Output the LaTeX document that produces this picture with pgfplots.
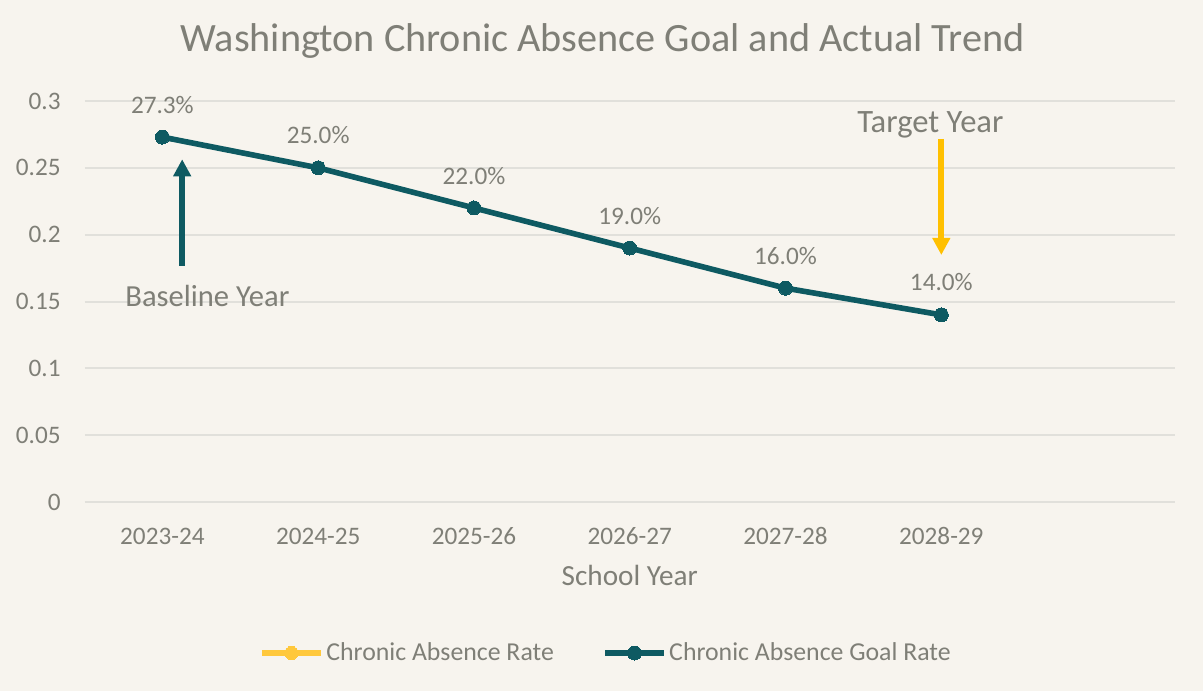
\documentclass[border=0pt]{standalone}
\usepackage{pgfplots}
\pgfplotsset{compat=1.18}
\usepackage{fontspec}
\setmainfont{Carlito}
\usetikzlibrary{arrows.meta}

\definecolor{bg}{HTML}{F7F4EE}
\definecolor{txt}{HTML}{7F7F77}
\definecolor{gridc}{HTML}{E1E0DB}
\definecolor{goalc}{HTML}{0E5A62}
\definecolor{arrowy}{HTML}{FFC000}
\definecolor{legy}{HTML}{FFC83C}

% goal rate per school year (index 0 = 2023-24)
\pgfplotstableread{
x y
0 0.273
1 0.250
2 0.220
3 0.190
4 0.160
5 0.140
}\goaldata

\begin{document}
\begin{tikzpicture}
% page = 1203x691 px at 0.5pt per px, origin at the plot area's lower left
\fill[bg] (-42.25pt,-94.5pt) rectangle (559.25pt,251pt);
\path[use as bounding box] (-42.25pt,-94.5pt) rectangle (559.25pt,251pt);
\begin{axis}[
    scale only axis,
    width=545.25pt, height=200.5pt,
    xmin=-0.5, xmax=6.5, ymin=0, ymax=0.3,
    xtick={0,1,2,3,4,5},
    xticklabels={2023-24,2024-25,2025-26,2026-27,2027-28,2028-29},
    ytick={0,0.05,0.1,0.15,0.2,0.25,0.3},
    yticklabels={0,0.05,0.1,0.15,0.2,0.25,0.3},
    major tick length=0pt,
    axis line style={draw=none},
    ymajorgrids,
    grid style={gridc, line width=1pt},
    tick label style={text=txt, font=\fontsize{12.6}{14}\selectfont},
    xticklabel style={anchor=base, inner sep=0pt, yshift=-21pt},
    yticklabel style={anchor=east, inner sep=0pt, xshift=-11.75pt},
    xlabel={School Year},
    xlabel style={at={(axis description cs:0.5,0)}, anchor=base, inner sep=0pt,
        yshift=-41.5pt, text=txt, font=\fontsize{14.6}{16}\selectfont},
    clip=false,
    legend columns=2,
    legend style={at={(axis description cs:0.1600,-0.3766)}, anchor=west,
        draw=none, fill=none, inner sep=0pt, outer sep=0pt,
        text=txt, font=\fontsize{12.9}{14}\selectfont,
        nodes={inner sep=1.2pt},
        /tikz/every even column/.append style={column sep=23pt}},
    legend image code/.code={
        \draw[#1, mark repeat=2, mark phase=2]
            plot coordinates {(0pt,0pt) (14.75pt,0pt) (29.5pt,0pt)};},
]
\addlegendimage{legy, line width=3pt, mark=*, mark size=3.3pt,
    mark options={fill=legy, draw=legy, line width=0pt}}
\addlegendentry{Chronic Absence Rate}

\addplot[goalc, line width=2.8pt, mark=*, mark size=3.5pt,
    mark options={fill=goalc, draw=goalc, line width=0pt},
    point meta={y*100},
    nodes near coords={\pgfmathprintnumber[fixed,fixed zerofill,precision=1,
        assume math mode=true]{\pgfplotspointmeta}\%},
    every node near coord/.style={anchor=center, yshift=16.2pt, text=txt,
        font=\fontsize{12.6}{14}\selectfont},
] table[x=x, y=y] {\goaldata};
\addlegendentry{Chronic Absence Goal Rate}

% annotations
\draw[goalc, line width=3.2pt, -{Triangle[width=8.5pt,length=8.5pt]}]
    (axis cs:0.127,0.1766) -- (axis cs:0.127,0.2564);
\node[anchor=base, inner sep=0pt, text=txt, font=\fontsize{15.3}{17}\selectfont]
    at (axis cs:0.289,0.1459) {Baseline Year};
\draw[arrowy, line width=3pt, -{Triangle[width=8.5pt,length=8.5pt]}]
    (axis cs:5,0.2716) -- (axis cs:5,0.1848);
\node[anchor=base, inner sep=0pt, text=txt, font=\fontsize{16.3}{18}\selectfont]
    at (axis cs:4.93,0.2768) {Target Year};
\end{axis}
\node[anchor=base, inner sep=0pt, text=txt, font=\fontsize{20.1}{22}\selectfont]
    at (259.05pt,225pt) {Washington Chronic Absence Goal and Actual Trend};
\end{tikzpicture}
\end{document}
